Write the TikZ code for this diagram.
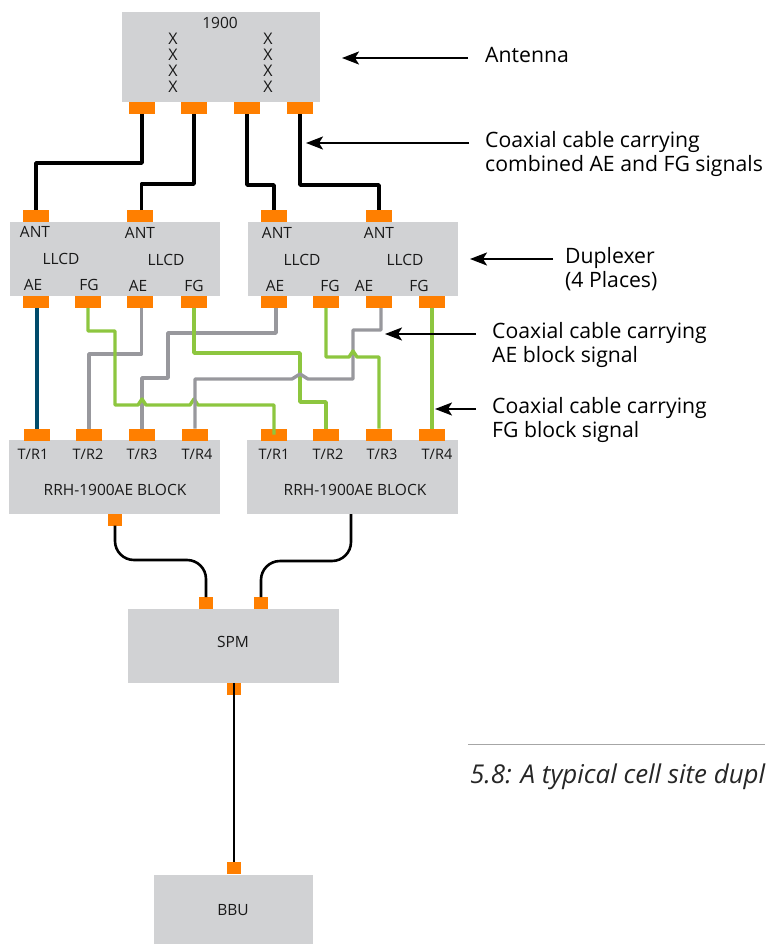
\documentclass[tikz,border=0pt]{standalone}
\usepackage{fontspec}
\setmainfont{Open Sans}
\usetikzlibrary{arrows.meta}
\definecolor{boxgray}{HTML}{D1D2D4}
\definecolor{portorange}{HTML}{FF7F00}
\definecolor{aegray}{HTML}{98989D}
\definecolor{fggreen}{HTML}{8DC63F}
\definecolor{cableblue}{HTML}{004B6B}
\tikzset{
   x=1pt, y=-1pt,
   unit/.style={fill=boxgray, inner sep=0pt, outer sep=0pt},
   port/.style={fill=portorange, inner sep=0pt, outer sep=0pt, minimum width=26, minimum height=12},
   smallport/.style={port, minimum width=14},
   tag/.style={inner sep=0pt, font=\fontsize{15.5}{17}\selectfont, text=black!90},
   trtag/.style={tag, font=\fontsize{14.5}{17}\selectfont},
   note/.style={inner sep=0pt, anchor=west, align=left, font=\fontsize{21.2}{24}\selectfont},
   coax/.style={line width=3.6pt, line join=round},
   aeline/.style={line width=3.4pt, aegray, line join=round},
   fgline/.style={line width=3.4pt, fggreen, line join=round},
   thinline/.style={line width=2.6pt, rounded corners=19pt},
   pointer/.style={line width=2pt, -{Stealth[length=17pt, width=13pt, inset=4pt]}},
}
\begin{document}
\begin{tikzpicture}
   \useasboundingbox (0,0) rectangle (765,944);

   \node[unit, minimum width=198, minimum height=90] (antenna) at (221,57) {};
   \node[unit, minimum width=210, minimum height=74] (llcdA) at (115,259) {};
   \node[unit, minimum width=210, minimum height=74] (llcdB) at (353,259) {};
   \node[unit, minimum width=211, minimum height=74] (rrhA) at (114.5,477) {};
   \node[unit, minimum width=211, minimum height=74] (rrhB) at (352.5,477) {};
   \node[unit, minimum width=211, minimum height=74] (spm) at (233.5,646) {};
   \node[unit, minimum width=159, minimum height=69] (bbu) at (233.5,909.5) {};

   \node[tag] (band) at (220,23) {1900};
   \node[tag, align=center, font=\fontsize{16}{16}\selectfont] (xleft) at (173,63) {X\\X\\X\\X};
   \node[tag, align=center, font=\fontsize{16}{16}\selectfont] (xright) at (268,63) {X\\X\\X\\X};

   \node[tag] (antA) at (35,232) {ANT};
   \node[tag] (antB) at (140,233) {ANT};
   \node[tag] (antC) at (277,233) {ANT};
   \node[tag] (antD) at (379,233) {ANT};
   \node[tag] (nameA) at (61,259) {LLCD};
   \node[tag] (nameB) at (166,260) {LLCD};
   \node[tag] (nameC) at (302,260) {LLCD};
   \node[tag] (nameD) at (405,260) {LLCD};
   \node[tag] (aeA) at (33,285) {AE};
   \node[tag] (fgA) at (89,285) {FG};
   \node[tag] (aeB) at (138,286) {AE};
   \node[tag] (fgB) at (194,286) {FG};
   \node[tag] (aeC) at (275,286) {AE};
   \node[tag] (fgC) at (330,286) {FG};
   \node[tag] (aeD) at (364,286) {AE};
   \node[tag] (fgD) at (419,286) {FG};

   \node[trtag] (trA) at (33,454.5) {T/R1};
   \node[trtag] (trB) at (88,454.5) {T/R2};
   \node[trtag] (trC) at (142,454.5) {T/R3};
   \node[trtag] (trD) at (197,454.5) {T/R4};
   \node[trtag] (trE) at (274,454.5) {T/R1};
   \node[trtag] (trF) at (328,454.5) {T/R2};
   \node[trtag] (trG) at (382,454.5) {T/R3};
   \node[trtag] (trH) at (437,454.5) {T/R4};
   \node[tag] (rrhnameA) at (115,490) {RRH-1900AE BLOCK};
   \node[tag] (rrhnameB) at (355,490) {RRH-1900AE BLOCK};
   \node[tag] (spmname) at (233,642) {SPM};
   \node[tag] (bbuname) at (233,910) {BBU};

   \node[port] (antp1) at (142,108) {};
   \node[port] (antp2) at (194,108) {};
   \node[port] (antp3) at (247,108) {};
   \node[port] (antp4) at (300,108) {};

   \node[port] (topA) at (36,216) {};
   \node[port] (topB) at (140,216) {};
   \node[port] (topC) at (274,216) {};
   \node[port] (topD) at (379,216) {};

   \node[port] (ae1) at (36,302) {};
   \node[port] (fg1) at (88,302) {};
   \node[port] (ae2) at (140,302) {};
   \node[port] (fg2) at (194,302) {};
   \node[port] (ae3) at (274,302) {};
   \node[port] (fg3) at (326,302) {};
   \node[port] (ae4) at (379,302) {};
   \node[port] (fg4) at (432,302) {};

   \node[port] (tr1) at (37,434.5) {};
   \node[port] (tr2) at (89,434.5) {};
   \node[port] (tr3) at (142,434.5) {};
   \node[port] (tr4) at (195,434.5) {};
   \node[port] (tr5) at (274,434.5) {};
   \node[port] (tr6) at (326,434.5) {};
   \node[port] (tr7) at (379,434.5) {};
   \node[port] (tr8) at (432,434.5) {};

   \node[smallport] (rrhout) at (115,519.5) {};
   \node[smallport] (spmA) at (206,603) {};
   \node[smallport] (spmB) at (261,603) {};
   \node[smallport] (spmout) at (234,689) {};
   \node[smallport] (bbuin) at (234,868) {};

   \draw[coax] (antp1.south) |- (topA.north |- 0,163) -- (topA.north);
   \draw[coax] (topB.north) ++(1.5,0) |- (194,184) -- (antp2.south);
   \draw[coax] (antp3.south) |- (topC.north |- 0,185) -- (topC.north);
   \draw[coax] (antp4.south) |- (topD.north |- 0,185) -- (topD.north);

   \draw[line width=3.4pt, cableblue] (tr1.north |- ae1.south) -- (tr1.north);
   \draw[fgline] (fg4.south) -- (tr8.north);
   \draw[aeline] (ae2.south) ++(1.5,0) |- (89,354) -- (tr2.north);
   \draw[aeline] (ae3.south) ++(2,0) |- (168,333) |- (142,378) -- (tr3.north);
   \draw[fgline] (fg2.south) |- (300,353) |- (326,402) -- (tr6.north);
   \draw[fgline] (fg1.south) |- (115,331) |- (138,405) -- (142,399) -- (146,405) -- (190,405) -- (194,399) -- (198,405) -| (tr5.center);
   \draw[aeline] (ae4.south) ++(2,0) |- (353,330) |- (308,379) -- (300,374) -- (292,379) -| (tr4.north);
   \draw[fgline] (fg3.south) |- (349,357) -- (353,351) -- (357,357) -| (tr7.north);

   \draw[thinline] (rrhout.south) |- (206,560) -- (spmA.north);
   \draw[thinline] (rrhB.south -| 351,0) |- (261,561) -- (spmB.north);
   \draw[line width=2.6pt] (spmout.north) -- (bbuin.north);

   \node[note] (antennanote) at (485,55) {Antenna};
   \node[note] (coaxnote) at (485,153.5) {Coaxial cable carrying\\combined AE and FG signals};
   \node[note] (duplexnote) at (565,269) {Duplexer\\(4 Places)};
   \node[note] (aenote) at (492,344.5) {Coaxial cable carrying\\AE block signal};
   \node[note] (fgnote) at (492,420) {Coaxial cable carrying\\FG block signal};

   \coordinate (antennastart) at (468,58);
   \coordinate (antennatip) at (342,58);
   \coordinate (coaxstart) at (469,143);
   \coordinate (coaxtip) at (306,143);
   \coordinate (duplexstart) at (553,259);
   \coordinate (duplextip) at (470,259);
   \coordinate (aestart) at (476,334);
   \coordinate (aetip) at (385,334);
   \coordinate (fgstart) at (476,409);
   \coordinate (fgtip) at (435,409);
   \draw[pointer] (antennastart) -- (antennatip);
   \draw[pointer] (coaxstart) -- (coaxtip);
   \draw[pointer] (duplexstart) -- (duplextip);
   \draw[pointer] (aestart) -- (aetip);
   \draw[pointer] (fgstart) -- (fgtip);

   \coordinate (rulestart) at (468,744);
   \coordinate (ruleend) at (765,744);
   \draw[black!35, line width=1pt] (rulestart) -- (ruleend);
   \node[note, font=\fontsize{25.9}{28}\selectfont\itshape, text=black!85] (caption) at (470,776.5) {5.8: A typical cell site dupl};
\end{tikzpicture}
\end{document}
